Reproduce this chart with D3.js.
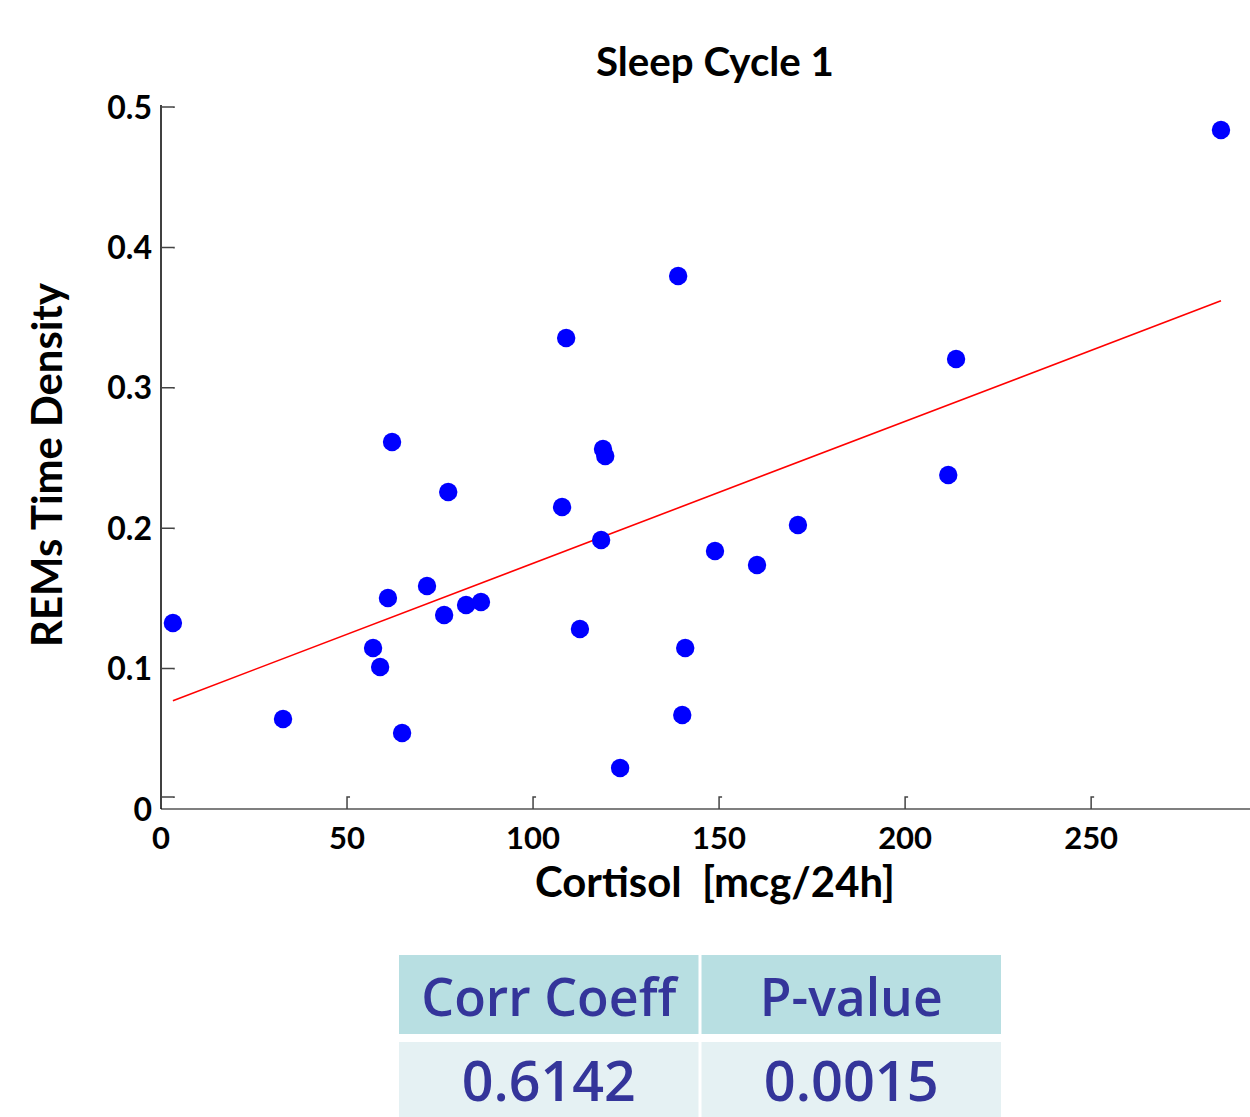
<!DOCTYPE html>
<html>
<head>
<meta charset="utf-8">
<script src="https://cdn.jsdelivr.net/npm/d3@7"></script>
<style>
  html, body { margin: 0; padding: 0; background: #fff; }
  svg { display: block; }
</style>
</head>
<body>
<svg id="chart" width="1250" height="1117"></svg>
<script>
// Cortisol excretion (mcg/24h) vs REM time density, sleep cycle 1
const cortisol = [3.2, 32.8, 57.0, 58.9, 61.0, 62.1, 64.8, 71.5, 76.1, 77.2,
                  82.0, 86.0, 107.8, 108.9, 112.6, 118.3, 118.8, 119.4, 123.4, 139.0,
                  140.1, 140.9, 148.9, 160.2, 171.2, 211.6, 213.7, 284.9];
const remDensity = [0.1325, 0.0641, 0.1147, 0.1011, 0.1503, 0.2614, 0.0541, 0.1588, 0.1382, 0.2258,
                    0.1453, 0.1474, 0.2151, 0.3355, 0.1282, 0.1916, 0.2564, 0.2514, 0.0292, 0.3796,
                    0.0670, 0.1147, 0.1838, 0.1738, 0.2023, 0.2379, 0.3205, 0.4836];
// linear fit: [intercept, slope]
const fitCoef = [0.0739, 0.001011];
const xTicks = [0, 50, 100, 150, 200, 250];
const yTicks = [0, 0.1, 0.2, 0.3, 0.4, 0.5];
const statHeaders = ["Corr Coeff", "P-value"];
const statValues = ["0.6142", "0.0015"];

const svg = d3.select("#chart");
const FONT = "Lato, 'Open Sans', sans-serif";

// scale text so its rendered width equals a given width
function fitWidth(sel, target) {
  const size = +sel.attr("font-size");
  const w = sel.node().getComputedTextLength();
  sel.attr("font-size", size * target / w);
  return sel;
}

const x = d3.scaleLinear().domain([0, 292.7]).range([161, 1250]);
const y = d3.scaleLinear().domain([0, 0.5]).range([809, 107]);

// axes
const xAxis = svg.append("g").attr("transform", `translate(0,${y(0)})`);
xAxis.append("line").attr("x1", x(0)).attr("x2", 1250).attr("y1", 0).attr("y2", 0)
  .attr("stroke", "#555").attr("stroke-width", 1.5);
xAxis.selectAll("path.tick").data(xTicks.slice(1)).join("path")
  .attr("class", "tick")
  .attr("d", d => `M${x(d)},0V-12h3`)
  .attr("fill", "none").attr("stroke", "#444").attr("stroke-width", 1.5);
xAxis.selectAll("text").data(xTicks).join("text")
  .attr("x", d => x(d)).attr("y", 40)
  .attr("text-anchor", "middle")
  .attr("font-family", FONT).attr("font-weight", 700).attr("font-size", 31)
  .attr("fill", "#000")
  .text(d => d3.format("d")(d));

const yAxis = svg.append("g").attr("transform", `translate(${x(0)},0)`);
yAxis.append("line").attr("x1", 0).attr("x2", 0).attr("y1", y(0.5) - 2).attr("y2", y(0))
  .attr("stroke", "#000").attr("stroke-width", 1.5);
yAxis.selectAll("path.tick").data(yTicks).join("path")
  .attr("class", "tick")
  .attr("d", d => `M0,${y(d) - (d === 0 ? 12 : 0)}H13v1`)
  .attr("fill", "none").attr("stroke", "#444").attr("stroke-width", 1.5);
yAxis.selectAll("text").data(yTicks).join("text")
  .attr("x", -9).attr("y", d => y(d) + 11.5)
  .attr("text-anchor", "end")
  .attr("font-family", FONT).attr("font-weight", 700).attr("font-size", 32)
  .attr("fill", "#000")
  .text(d => d === 0 ? "0" : d3.format(".1f")(d));

// fitted line over the observed cortisol range
const [xmin, xmax] = d3.extent(cortisol);
const fit = v => fitCoef[0] + fitCoef[1] * v;
svg.append("line")
  .attr("x1", x(xmin)).attr("y1", y(fit(xmin)))
  .attr("x2", x(xmax)).attr("y2", y(fit(xmax)))
  .attr("stroke", "#ff0000").attr("stroke-width", 1.6);

// observations
svg.append("g").selectAll("circle").data(cortisol.map((c, i) => [c, remDensity[i]])).join("circle")
  .attr("cx", d => x(d[0])).attr("cy", d => y(d[1])).attr("r", 9.2)
  .attr("fill", "#0000ff");

// titles
fitWidth(svg.append("text")
  .attr("x", 715).attr("y", 76).attr("text-anchor", "middle")
  .attr("font-family", FONT).attr("font-weight", 700).attr("font-size", 34)
  .text("Sleep Cycle 1"), 238);

fitWidth(svg.append("text")
  .attr("x", 715).attr("y", 897).attr("text-anchor", "middle")
  .attr("font-family", FONT).attr("font-weight", 700).attr("font-size", 38)
  .attr("xml:space", "preserve")
  .text("Cortisol  [mcg/24h]"), 360);

fitWidth(svg.append("text")
  .attr("transform", "translate(62,465) rotate(-90)")
  .attr("text-anchor", "middle")
  .attr("font-family", FONT).attr("font-weight", 700).attr("font-size", 38)
  .text("REMs Time Density"), 364);

// statistics table
const colX = d3.scaleBand().domain(d3.range(statHeaders.length)).range([399, 1001]).paddingInner(0.01);
const table = svg.append("g");
const rows = [
  { y0: 955, y1: 1034, fill: "#b8dfe2", labels: statHeaders, widths: [255, 183], base: 1016 },
  { y0: 1042, y1: 1117, fill: "#e5f1f3", labels: statValues, widths: [174, 175], base: 1101 }
];
rows.forEach(r => {
  table.selectAll(null).data(r.labels).join("rect")
    .attr("x", (d, i) => colX(i)).attr("width", colX.bandwidth())
    .attr("y", r.y0).attr("height", r.y1 - r.y0)
    .attr("fill", r.fill);
  table.selectAll(null).data(r.labels).join("text")
    .attr("x", (d, i) => colX(i) + colX.bandwidth() / 2)
    .attr("y", r.base).attr("text-anchor", "middle")
    .attr("font-family", "'Open Sans', sans-serif").attr("font-weight", 600)
    .attr("font-size", 50).attr("fill", "#34359a")
    .text(d => d)
    .each(function (d, i) { fitWidth(d3.select(this), r.widths[i]); });
});
</script>
</body>
</html>
